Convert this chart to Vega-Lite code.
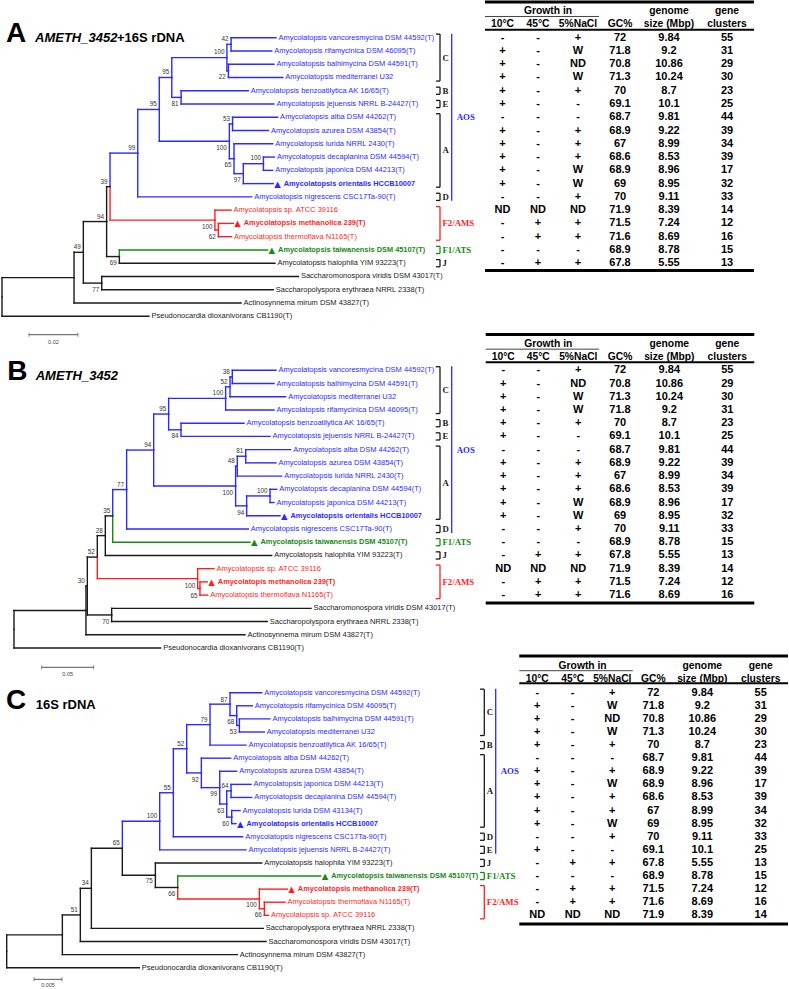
{
"$schema": "https://vega.github.io/schema/vega-lite/v6.json",
"background": "white",
"padding": 0,
"spacing": 0,
"bounds": "flush",
"config": {"view": {"stroke": null}, "text": {"font": "Liberation Sans"}, "concat": {"spacing": 0}},
"resolve": {"scale": {"x": "independent", "y": "independent", "color": "independent"}},
"datasets": {
"hdr": [{"c":2.25,"r":-2,"t":"Growth in"},{"c":5,"r":-2,"t":"genome"},{"c":6,"r":-2,"t":"gene"},{"c":1,"r":-1,"t":"10°C"},{"c":2,"r":-1,"t":"45°C"},{"c":3,"r":-1,"t":"5%NaCl"},{"c":4,"r":-1,"t":"GC%"},{"c":5,"r":-1,"t":"size (Mbp)"},{"c":6,"r":-1,"t":"clusters"}],
"aos": [{"l":"AOS","top":-0.3,"bot":12.3,"mid":6,"g":"AOS"}],
"edgesA": [
{"px":0,"py":19.55,"cx":0.0294,"cy":18.09,"g":"out"},
{"px":0,"py":19.55,"cx":0.06,"cy":21,"g":"out"},
{"px":0.0294,"py":18.09,"cx":0.0332,"cy":16.18,"g":"out"},
{"px":0.0294,"py":18.09,"cx":0.0976,"cy":20,"g":"out"},
{"px":0.0332,"py":16.18,"cx":0.0427,"cy":13.86,"g":"out"},
{"px":0.0332,"py":16.18,"cx":0.0407,"cy":18.5,"g":"out"},
{"px":0.0407,"py":18.5,"cx":0.121,"cy":18,"g":"out"},
{"px":0.0407,"py":18.5,"cx":0.1107,"cy":19,"g":"out"},
{"px":0.0427,"py":13.86,"cx":0.0441,"cy":11.23,"g":"out"},
{"px":0.0427,"py":13.86,"cx":0.0479,"cy":16.5,"g":"out"},
{"px":0.0479,"py":16.5,"cx":0.1084,"cy":16,"g":"ATS"},
{"px":0.0479,"py":16.5,"cx":0.1114,"cy":17,"g":"out"},
{"px":0.0441,"py":11.23,"cx":0.0554,"cy":8.7,"g":"AOS"},
{"px":0.0441,"py":11.23,"cx":0.0869,"cy":13.75,"g":"AMS"},
{"px":0.0869,"py":13.75,"cx":0.0935,"cy":13,"g":"AMS"},
{"px":0.0869,"py":13.75,"cx":0.0883,"cy":14.5,"g":"AMS"},
{"px":0.0883,"py":14.5,"cx":0.0944,"cy":14,"g":"AMS"},
{"px":0.0883,"py":14.5,"cx":0.0937,"cy":15,"g":"AMS"},
{"px":0.0554,"py":8.7,"cx":0.0642,"cy":5.41,"g":"AOS"},
{"px":0.0554,"py":8.7,"cx":0.1019,"cy":12,"g":"AOS"},
{"px":0.0642,"py":5.41,"cx":0.0693,"cy":3,"g":"AOS"},
{"px":0.0642,"py":5.41,"cx":0.0928,"cy":7.81,"g":"AOS"},
{"px":0.0693,"py":3,"cx":0.0918,"cy":1.5,"g":"AOS"},
{"px":0.0693,"py":3,"cx":0.0731,"cy":4.5,"g":"AOS"},
{"px":0.0918,"py":1.5,"cx":0.0935,"cy":0.5,"g":"AOS"},
{"px":0.0918,"py":1.5,"cx":0.0924,"cy":2.5,"g":"AOS"},
{"px":0.0935,"py":0.5,"cx":0.1118,"cy":0,"g":"AOS"},
{"px":0.0935,"py":0.5,"cx":0.1101,"cy":1,"g":"AOS"},
{"px":0.0924,"py":2.5,"cx":0.111,"cy":2,"g":"AOS"},
{"px":0.0924,"py":2.5,"cx":0.1146,"cy":3,"g":"AOS"},
{"px":0.0731,"py":4.5,"cx":0.1005,"cy":4,"g":"AOS"},
{"px":0.0731,"py":4.5,"cx":0.111,"cy":5,"g":"AOS"},
{"px":0.0928,"py":7.81,"cx":0.0941,"cy":6.5,"g":"AOS"},
{"px":0.0928,"py":7.81,"cx":0.0947,"cy":9.125,"g":"AOS"},
{"px":0.0941,"py":6.5,"cx":0.1125,"cy":6,"g":"AOS"},
{"px":0.0941,"py":6.5,"cx":0.1088,"cy":7,"g":"AOS"},
{"px":0.0947,"py":9.125,"cx":0.1105,"cy":8,"g":"AOS"},
{"px":0.0947,"py":9.125,"cx":0.0985,"cy":10.25,"g":"AOS"},
{"px":0.0985,"py":10.25,"cx":0.1067,"cy":9.5,"g":"AOS"},
{"px":0.0985,"py":10.25,"cx":0.1107,"cy":11,"g":"AOS"},
{"px":0.1067,"py":9.5,"cx":0.1112,"cy":9,"g":"AOS"},
{"px":0.1067,"py":9.5,"cx":0.1105,"cy":10,"g":"AOS"}
],
"leavesA": [
{"r":0,"t":0.1118,"n":"Amycolatopsis vancoresmycina DSM 44592(T)","g":"AOS"},
{"r":1,"t":0.1101,"n":"Amycolatopsis rifamycinica DSM 46095(T)","g":"AOS"},
{"r":2,"t":0.111,"n":"Amycolatopsis balhimycina DSM 44591(T)","g":"AOS"},
{"r":3,"t":0.1146,"n":"Amycolatopsis mediterranei U32","g":"AOS"},
{"r":4,"t":0.1005,"n":"Amycolatopsis benzoatilytica AK 16/65(T)","g":"AOS"},
{"r":5,"t":0.111,"n":"Amycolatopsis jejuensis NRRL B-24427(T)","g":"AOS"},
{"r":6,"t":0.1125,"n":"Amycolatopsis alba DSM 44262(T)","g":"AOS"},
{"r":7,"t":0.1088,"n":"Amycolatopsis azurea DSM 43854(T)","g":"AOS"},
{"r":8,"t":0.1105,"n":"Amycolatopsis lurida NRRL 2430(T)","g":"AOS"},
{"r":9,"t":0.1112,"n":"Amycolatopsis decaplanina DSM 44594(T)","g":"AOS"},
{"r":10,"t":0.1105,"n":"Amycolatopsis japonica DSM 44213(T)","g":"AOS"},
{"r":11,"t":0.1107,"n":"Amycolatopsis orientalis HCCB10007","g":"AOS","s":true},
{"r":12,"t":0.1019,"n":"Amycolatopsis nigrescens CSC17Ta-90(T)","g":"AOS"},
{"r":13,"t":0.0935,"n":"Amycolatopsis sp. ATCC 39116","g":"AMS"},
{"r":14,"t":0.0944,"n":"Amycolatopsis methanolica 239(T)","g":"AMS","s":true},
{"r":15,"t":0.0937,"n":"Amycolatopsis thermoflava N1165(T)","g":"AMS"},
{"r":16,"t":0.1084,"n":"Amycolatopsis taiwanensis DSM 45107(T)","g":"ATS","s":true},
{"r":17,"t":0.1114,"n":"Amycolatopsis halophila YIM 93223(T)","g":"out"},
{"r":18,"t":0.121,"n":"Saccharomonospora viridis DSM 43017(T)","g":"out"},
{"r":19,"t":0.1107,"n":"Saccharopolyspora erythraea NRRL 2338(T)","g":"out"},
{"r":20,"t":0.0976,"n":"Actinosynnema mirum DSM 43827(T)","g":"out"},
{"r":21,"t":0.06,"n":"Pseudonocardia dioxanivorans CB1190(T)","g":"out"}
],
"bootA": [
{"x":0.0935,"y":0.13,"b":"42"},{"x":0.0924,"y":3.0,"b":"22"},{"x":0.0918,"y":1.1,"b":"100"},{"x":0.0731,"y":5.0,"b":"81"},{"x":0.0693,"y":2.6,"b":"95"},{"x":0.0941,"y":6.1,"b":"53"},{"x":0.1067,"y":9.1,"b":"100"},{"x":0.0985,"y":10.7,"b":"97"},{"x":0.0947,"y":9.6,"b":"65"},{"x":0.0928,"y":8.3,"b":"100"},{"x":0.0642,"y":5.0,"b":"95"},{"x":0.0554,"y":8.3,"b":"99"},{"x":0.0883,"y":15.0,"b":"62"},{"x":0.0869,"y":14.25,"b":"100"},{"x":0.0441,"y":10.85,"b":"39"},{"x":0.0479,"y":17.0,"b":"69"},{"x":0.0427,"y":13.5,"b":"94"},{"x":0.0407,"y":19.0,"b":"77"},{"x":0.0332,"y":15.8,"b":"49"}
],
"tabA": [
{"r":0,"a":"-","b":"-","c":"+","gc":"72","gs":"9.84","gn":"55"},
{"r":1,"a":"+","b":"-","c":"W","gc":"71.8","gs":"9.2","gn":"31"},
{"r":2,"a":"+","b":"-","c":"ND","gc":"70.8","gs":"10.86","gn":"29"},
{"r":3,"a":"+","b":"-","c":"W","gc":"71.3","gs":"10.24","gn":"30"},
{"r":4,"a":"+","b":"-","c":"+","gc":"70","gs":"8.7","gn":"23"},
{"r":5,"a":"+","b":"-","c":"-","gc":"69.1","gs":"10.1","gn":"25"},
{"r":6,"a":"-","b":"-","c":"-","gc":"68.7","gs":"9.81","gn":"44"},
{"r":7,"a":"+","b":"-","c":"+","gc":"68.9","gs":"9.22","gn":"39"},
{"r":8,"a":"+","b":"-","c":"+","gc":"67","gs":"8.99","gn":"34"},
{"r":9,"a":"+","b":"-","c":"+","gc":"68.6","gs":"8.53","gn":"39"},
{"r":10,"a":"+","b":"-","c":"W","gc":"68.9","gs":"8.96","gn":"17"},
{"r":11,"a":"+","b":"-","c":"W","gc":"69","gs":"8.95","gn":"32"},
{"r":12,"a":"-","b":"-","c":"+","gc":"70","gs":"9.11","gn":"33"},
{"r":13,"a":"ND","b":"ND","c":"ND","gc":"71.9","gs":"8.39","gn":"14"},
{"r":14,"a":"-","b":"+","c":"+","gc":"71.5","gs":"7.24","gn":"12"},
{"r":15,"a":"-","b":"+","c":"+","gc":"71.6","gs":"8.69","gn":"16"},
{"r":16,"a":"-","b":"-","c":"-","gc":"68.9","gs":"8.78","gn":"15"},
{"r":17,"a":"-","b":"+","c":"+","gc":"67.8","gs":"5.55","gn":"13"}
],
"brA": [
{"l":"C","top":-0.27,"bot":3.27,"mid":1.5,"g":"out"},
{"l":"B","top":3.73,"bot":4.27,"mid":4,"g":"out"},
{"l":"E","top":4.73,"bot":5.27,"mid":5,"g":"out"},
{"l":"A","top":5.73,"bot":11.27,"mid":8.5,"g":"out"},
{"l":"D","top":11.73,"bot":12.27,"mid":12,"g":"out"},
{"l":"F2/AMS","top":12.73,"bot":15.27,"mid":14,"g":"AMS"},
{"l":"F1/ATS","top":15.73,"bot":16.27,"mid":16,"g":"ATS"},
{"l":"J","top":16.73,"bot":17.27,"mid":17,"g":"out"}
],
"edgesB": [
{"px":0,"py":19.58,"cx":0.0692,"cy":18.16,"g":"out"},
{"px":0,"py":19.58,"cx":0.141,"cy":21,"g":"out"},
{"px":0.0692,"py":18.16,"cx":0.0705,"cy":16.31,"g":"out"},
{"px":0.0692,"py":18.16,"cx":0.2221,"cy":20,"g":"out"},
{"px":0.0705,"py":16.31,"cx":0.0801,"cy":14.125,"g":"out"},
{"px":0.0705,"py":16.31,"cx":0.0939,"cy":18.5,"g":"out"},
{"px":0.0939,"py":18.5,"cx":0.2856,"cy":18,"g":"out"},
{"px":0.0939,"py":18.5,"cx":0.2436,"cy":19,"g":"out"},
{"px":0.0801,"py":14.125,"cx":0.0878,"cy":12.5,"g":"out"},
{"px":0.0801,"py":14.125,"cx":0.1766,"cy":15.75,"g":"AMS"},
{"px":0.1766,"py":15.75,"cx":0.1923,"cy":15,"g":"AMS"},
{"px":0.1766,"py":15.75,"cx":0.1788,"cy":16.5,"g":"AMS"},
{"px":0.1788,"py":16.5,"cx":0.1859,"cy":16,"g":"AMS"},
{"px":0.1788,"py":16.5,"cx":0.1862,"cy":17,"g":"AMS"},
{"px":0.0878,"py":12.5,"cx":0.0949,"cy":11.01,"g":"out"},
{"px":0.0878,"py":12.5,"cx":0.2478,"cy":14,"g":"out"},
{"px":0.0949,"py":11.01,"cx":0.1083,"cy":9.02,"g":"AOS"},
{"px":0.0949,"py":11.01,"cx":0.2269,"cy":13,"g":"ATS"},
{"px":0.1083,"py":9.02,"cx":0.1343,"cy":6.03,"g":"AOS"},
{"px":0.1083,"py":9.02,"cx":0.2253,"cy":12,"g":"AOS"},
{"px":0.1343,"py":6.03,"cx":0.1487,"cy":3.31,"g":"AOS"},
{"px":0.1343,"py":6.03,"cx":0.2131,"cy":8.75,"g":"AOS"},
{"px":0.1487,"py":3.31,"cx":0.2035,"cy":2.125,"g":"AOS"},
{"px":0.1487,"py":3.31,"cx":0.1606,"cy":4.5,"g":"AOS"},
{"px":0.2035,"py":2.125,"cx":0.2077,"cy":1.25,"g":"AOS"},
{"px":0.2035,"py":2.125,"cx":0.25,"cy":3,"g":"AOS"},
{"px":0.2077,"py":1.25,"cx":0.2099,"cy":0.5,"g":"AOS"},
{"px":0.2077,"py":1.25,"cx":0.2612,"cy":2,"g":"AOS"},
{"px":0.2099,"py":0.5,"cx":0.2519,"cy":0,"g":"AOS"},
{"px":0.2099,"py":0.5,"cx":0.25,"cy":1,"g":"AOS"},
{"px":0.1606,"py":4.5,"cx":0.2212,"cy":4,"g":"AOS"},
{"px":0.1606,"py":4.5,"cx":0.2462,"cy":5,"g":"AOS"},
{"px":0.2131,"py":8.75,"cx":0.2147,"cy":7.25,"g":"AOS"},
{"px":0.2131,"py":8.75,"cx":0.2237,"cy":10.25,"g":"AOS"},
{"px":0.2147,"py":7.25,"cx":0.2228,"cy":6.5,"g":"AOS"},
{"px":0.2147,"py":7.25,"cx":0.2574,"cy":8,"g":"AOS"},
{"px":0.2228,"py":6.5,"cx":0.266,"cy":6,"g":"AOS"},
{"px":0.2228,"py":6.5,"cx":0.2519,"cy":7,"g":"AOS"},
{"px":0.2237,"py":10.25,"cx":0.2462,"cy":9.5,"g":"AOS"},
{"px":0.2237,"py":10.25,"cx":0.2558,"cy":11,"g":"AOS"},
{"px":0.2462,"py":9.5,"cx":0.2526,"cy":9,"g":"AOS"},
{"px":0.2462,"py":9.5,"cx":0.25,"cy":10,"g":"AOS"}
],
"leavesB": [
{"r":0,"t":0.2519,"n":"Amycolatopsis vancoresmycina DSM 44592(T)","g":"AOS"},
{"r":1,"t":0.25,"n":"Amycolatopsis balhimycina DSM 44591(T)","g":"AOS"},
{"r":2,"t":0.2612,"n":"Amycolatopsis mediterranei U32","g":"AOS"},
{"r":3,"t":0.25,"n":"Amycolatopsis rifamycinica DSM 46095(T)","g":"AOS"},
{"r":4,"t":0.2212,"n":"Amycolatopsis benzoatilytica AK 16/65(T)","g":"AOS"},
{"r":5,"t":0.2462,"n":"Amycolatopsis jejuensis NRRL B-24427(T)","g":"AOS"},
{"r":6,"t":0.266,"n":"Amycolatopsis alba DSM 44262(T)","g":"AOS"},
{"r":7,"t":0.2519,"n":"Amycolatopsis azurea DSM 43854(T)","g":"AOS"},
{"r":8,"t":0.2574,"n":"Amycolatopsis lurida NRRL 2430(T)","g":"AOS"},
{"r":9,"t":0.2526,"n":"Amycolatopsis decaplanina DSM 44594(T)","g":"AOS"},
{"r":10,"t":0.25,"n":"Amycolatopsis japonica DSM 44213(T)","g":"AOS"},
{"r":11,"t":0.2558,"n":"Amycolatopsis orientalis HCCB10007","g":"AOS","s":true},
{"r":12,"t":0.2253,"n":"Amycolatopsis nigrescens CSC17Ta-90(T)","g":"AOS"},
{"r":13,"t":0.2269,"n":"Amycolatopsis taiwanensis DSM 45107(T)","g":"ATS","s":true},
{"r":14,"t":0.2478,"n":"Amycolatopsis halophila YIM 93223(T)","g":"out"},
{"r":15,"t":0.1923,"n":"Amycolatopsis sp. ATCC 39116","g":"AMS"},
{"r":16,"t":0.1859,"n":"Amycolatopis methanolica 239(T)","g":"AMS","s":true},
{"r":17,"t":0.1862,"n":"Amycolatopsis thermoflava N1165(T)","g":"AMS"},
{"r":18,"t":0.2856,"n":"Saccharomonospora viridis DSM 43017(T)","g":"out"},
{"r":19,"t":0.2436,"n":"Saccharopolyspora erythraea NRRL 2338(T)","g":"out"},
{"r":20,"t":0.2221,"n":"Actinosynnema mirum DSM 43827(T)","g":"out"},
{"r":21,"t":0.141,"n":"Pseudonocardia dioxanivorans CB1190(T)","g":"out"}
],
"bootB": [
{"x":0.2099,"y":0.1,"b":"38"},{"x":0.2077,"y":0.86,"b":"52"},{"x":0.2035,"y":1.74,"b":"100"},{"x":0.1606,"y":5.0,"b":"84"},{"x":0.1487,"y":2.94,"b":"95"},{"x":0.2228,"y":6.13,"b":"81"},{"x":0.2147,"y":6.88,"b":"48"},{"x":0.2462,"y":9.15,"b":"100"},{"x":0.2237,"y":10.76,"b":"94"},{"x":0.2131,"y":9.25,"b":"100"},{"x":0.1343,"y":5.67,"b":"94"},{"x":0.1083,"y":8.65,"b":"77"},{"x":0.0949,"y":10.67,"b":"35"},{"x":0.0878,"y":12.15,"b":"28"},{"x":0.1788,"y":17.03,"b":"65"},{"x":0.1766,"y":16.28,"b":"100"},{"x":0.0801,"y":13.76,"b":"52"},{"x":0.0939,"y":19.03,"b":"70"},{"x":0.0705,"y":15.96,"b":"30"}
],
"tabB": [
{"r":0,"a":"-","b":"-","c":"+","gc":"72","gs":"9.84","gn":"55"},
{"r":1,"a":"+","b":"-","c":"ND","gc":"70.8","gs":"10.86","gn":"29"},
{"r":2,"a":"+","b":"-","c":"W","gc":"71.3","gs":"10.24","gn":"30"},
{"r":3,"a":"+","b":"-","c":"W","gc":"71.8","gs":"9.2","gn":"31"},
{"r":4,"a":"+","b":"-","c":"+","gc":"70","gs":"8.7","gn":"23"},
{"r":5,"a":"+","b":"-","c":"-","gc":"69.1","gs":"10.1","gn":"25"},
{"r":6,"a":"-","b":"-","c":"-","gc":"68.7","gs":"9.81","gn":"44"},
{"r":7,"a":"+","b":"-","c":"+","gc":"68.9","gs":"9.22","gn":"39"},
{"r":8,"a":"+","b":"-","c":"+","gc":"67","gs":"8.99","gn":"34"},
{"r":9,"a":"+","b":"-","c":"+","gc":"68.6","gs":"8.53","gn":"39"},
{"r":10,"a":"+","b":"-","c":"W","gc":"68.9","gs":"8.96","gn":"17"},
{"r":11,"a":"+","b":"-","c":"W","gc":"69","gs":"8.95","gn":"32"},
{"r":12,"a":"-","b":"-","c":"+","gc":"70","gs":"9.11","gn":"33"},
{"r":13,"a":"-","b":"-","c":"-","gc":"68.9","gs":"8.78","gn":"15"},
{"r":14,"a":"-","b":"+","c":"+","gc":"67.8","gs":"5.55","gn":"13"},
{"r":15,"a":"ND","b":"ND","c":"ND","gc":"71.9","gs":"8.39","gn":"14"},
{"r":16,"a":"-","b":"+","c":"+","gc":"71.5","gs":"7.24","gn":"12"},
{"r":17,"a":"-","b":"+","c":"+","gc":"71.6","gs":"8.69","gn":"16"}
],
"brB": [
{"l":"C","top":-0.27,"bot":3.27,"mid":1.5,"g":"out"},
{"l":"B","top":3.73,"bot":4.27,"mid":4,"g":"out"},
{"l":"E","top":4.73,"bot":5.27,"mid":5,"g":"out"},
{"l":"A","top":5.73,"bot":11.27,"mid":8.5,"g":"out"},
{"l":"D","top":11.73,"bot":12.27,"mid":12,"g":"out"},
{"l":"F1/ATS","top":12.73,"bot":13.27,"mid":13,"g":"ATS"},
{"l":"J","top":13.73,"bot":14.27,"mid":14,"g":"out"},
{"l":"F2/AMS","top":14.73,"bot":17.27,"mid":16,"g":"AMS"}
],
"edgesC": [
{"px":0,"py":19.74,"cx":0.00994,"cy":18.49,"g":"out"},
{"px":0,"py":19.74,"cx":0.02369,"cy":21,"g":"out"},
{"px":0.00994,"py":18.49,"cx":0.01315,"cy":16.97,"g":"out"},
{"px":0.00994,"py":18.49,"cx":0.04119,"cy":20,"g":"out"},
{"px":0.01315,"py":16.97,"cx":0.01512,"cy":14.94,"g":"out"},
{"px":0.01315,"py":16.97,"cx":0.04631,"cy":19,"g":"out"},
{"px":0.01512,"py":14.94,"cx":0.02065,"cy":11.88,"g":"out"},
{"px":0.01512,"py":14.94,"cx":0.04583,"cy":18,"g":"out"},
{"px":0.02065,"py":11.88,"cx":0.02732,"cy":9.82,"g":"AOS"},
{"px":0.02065,"py":11.88,"cx":0.02655,"cy":13.94,"g":"out"},
{"px":0.02655,"py":13.94,"cx":0.04554,"cy":13,"g":"out"},
{"px":0.02655,"py":13.94,"cx":0.03054,"cy":14.875,"g":"out"},
{"px":0.03054,"py":14.875,"cx":0.05607,"cy":14,"g":"ATS"},
{"px":0.03054,"py":14.875,"cx":0.04512,"cy":15.75,"g":"AMS"},
{"px":0.04512,"py":15.75,"cx":0.05012,"cy":15,"g":"AMS"},
{"px":0.04512,"py":15.75,"cx":0.04601,"cy":16.5,"g":"AMS"},
{"px":0.04601,"py":16.5,"cx":0.0497,"cy":16,"g":"AMS"},
{"px":0.04601,"py":16.5,"cx":0.04673,"cy":17,"g":"AMS"},
{"px":0.02732,"py":9.82,"cx":0.02976,"cy":7.64,"g":"AOS"},
{"px":0.02732,"py":9.82,"cx":0.04274,"cy":12,"g":"AOS"},
{"px":0.02976,"py":7.64,"cx":0.03214,"cy":4.28,"g":"AOS"},
{"px":0.02976,"py":7.64,"cx":0.04214,"cy":11,"g":"AOS"},
{"px":0.03214,"py":4.28,"cx":0.03631,"cy":2.44,"g":"AOS"},
{"px":0.03214,"py":4.28,"cx":0.03476,"cy":6.125,"g":"AOS"},
{"px":0.03631,"py":2.44,"cx":0.03988,"cy":0.875,"g":"AOS"},
{"px":0.03631,"py":2.44,"cx":0.04274,"cy":4,"g":"AOS"},
{"px":0.03988,"py":0.875,"cx":0.04554,"cy":0,"g":"AOS"},
{"px":0.03988,"py":0.875,"cx":0.04107,"cy":1.75,"g":"AOS"},
{"px":0.04107,"py":1.75,"cx":0.04387,"cy":1,"g":"AOS"},
{"px":0.04107,"py":1.75,"cx":0.04155,"cy":2.5,"g":"AOS"},
{"px":0.04155,"py":2.5,"cx":0.04702,"cy":2,"g":"AOS"},
{"px":0.04155,"py":2.5,"cx":0.04601,"cy":3,"g":"AOS"},
{"px":0.03476,"py":6.125,"cx":0.04,"cy":5,"g":"AOS"},
{"px":0.03476,"py":6.125,"cx":0.03804,"cy":7.25,"g":"AOS"},
{"px":0.03804,"py":7.25,"cx":0.04107,"cy":6,"g":"AOS"},
{"px":0.03804,"py":7.25,"cx":0.03929,"cy":8.5,"g":"AOS"},
{"px":0.03929,"py":8.5,"cx":0.04006,"cy":7.5,"g":"AOS"},
{"px":0.03929,"py":8.5,"cx":0.04018,"cy":9.5,"g":"AOS"},
{"px":0.04006,"py":7.5,"cx":0.04363,"cy":7,"g":"AOS"},
{"px":0.04006,"py":7.5,"cx":0.04375,"cy":8,"g":"AOS"},
{"px":0.04018,"py":9.5,"cx":0.04167,"cy":9,"g":"AOS"},
{"px":0.04018,"py":9.5,"cx":0.04095,"cy":10,"g":"AOS"}
],
"leavesC": [
{"r":0,"t":0.04554,"n":"Amycolatopsis vancoresmycina DSM 44592(T)","g":"AOS"},
{"r":1,"t":0.04387,"n":"Amycolatopsis rifamycinica DSM 46095(T)","g":"AOS"},
{"r":2,"t":0.04702,"n":"Amycolatopsis balhimycina DSM 44591(T)","g":"AOS"},
{"r":3,"t":0.04601,"n":"Amycolatopsis mediterranei U32","g":"AOS"},
{"r":4,"t":0.04274,"n":"Amycolatopsis benzoatilytica AK 16/65(T)","g":"AOS"},
{"r":5,"t":0.04,"n":"Amycolatopsis alba DSM 44262(T)","g":"AOS"},
{"r":6,"t":0.04107,"n":"Amycolatopsis azurea DSM 43854(T)","g":"AOS"},
{"r":7,"t":0.04363,"n":"Amycolatopsis japonica DSM 44213(T)","g":"AOS"},
{"r":8,"t":0.04375,"n":"Amycolatopsis decaplanina DSM 44594(T)","g":"AOS"},
{"r":9,"t":0.04167,"n":"Amycolatopsis lurida DSM 43134(T)","g":"AOS"},
{"r":10,"t":0.04095,"n":"Amycolatopsis orientalis HCCB10007","g":"AOS","s":true},
{"r":11,"t":0.04214,"n":"Amycolatopsis nigrescens CSC17Ta-90(T)","g":"AOS"},
{"r":12,"t":0.04274,"n":"Amycolatopsis jejuensis NRRL B-24427(T)","g":"AOS"},
{"r":13,"t":0.04554,"n":"Amycolatopsis halophila YIM 93223(T)","g":"out"},
{"r":14,"t":0.05607,"n":"Amycolatopsis taiwanensis DSM 45107(T)","g":"ATS","s":true},
{"r":15,"t":0.05012,"n":"Amycolatopsis methanolica 239(T)","g":"AMS","s":true},
{"r":16,"t":0.0497,"n":"Amycolatopsis thermoflava N1165(T)","g":"AMS"},
{"r":17,"t":0.04673,"n":"Amycolatopsis sp. ATCC 39116","g":"AMS"},
{"r":18,"t":0.04583,"n":"Saccharopolyspora erythraea NRRL 2338(T)","g":"out"},
{"r":19,"t":0.04631,"n":"Saccharomonospora viridis DSM 43017(T)","g":"out"},
{"r":20,"t":0.04119,"n":"Actinosynnema mirum DSM 43827(T)","g":"out"},
{"r":21,"t":0.02369,"n":"Pseudonocardia dioxanivorans CB1190(T)","g":"out"}
],
"bootC": [
{"x":0.04155,"y":3.0,"b":"53"},{"x":0.04107,"y":2.24,"b":"68"},{"x":0.03988,"y":0.53,"b":"87"},{"x":0.03631,"y":2.09,"b":"79"},{"x":0.04006,"y":7.15,"b":"64"},{"x":0.04018,"y":10.0,"b":"60"},{"x":0.03929,"y":9.01,"b":"63"},{"x":0.03804,"y":7.76,"b":"99"},{"x":0.03476,"y":6.64,"b":"92"},{"x":0.03214,"y":3.95,"b":"52"},{"x":0.02976,"y":7.25,"b":"55"},{"x":0.02732,"y":9.44,"b":"100"},{"x":0.04601,"y":17.0,"b":"66"},{"x":0.04512,"y":16.24,"b":"100"},{"x":0.03054,"y":15.35,"b":"66"},{"x":0.02655,"y":14.4,"b":"75"},{"x":0.02065,"y":11.5,"b":"65"},{"x":0.01512,"y":14.55,"b":"34"},{"x":0.01315,"y":16.6,"b":"51"}
],
"tabC": [
{"r":0,"a":"-","b":"-","c":"+","gc":"72","gs":"9.84","gn":"55"},
{"r":1,"a":"+","b":"-","c":"W","gc":"71.8","gs":"9.2","gn":"31"},
{"r":2,"a":"+","b":"-","c":"ND","gc":"70.8","gs":"10.86","gn":"29"},
{"r":3,"a":"+","b":"-","c":"W","gc":"71.3","gs":"10.24","gn":"30"},
{"r":4,"a":"+","b":"-","c":"+","gc":"70","gs":"8.7","gn":"23"},
{"r":5,"a":"-","b":"-","c":"-","gc":"68.7","gs":"9.81","gn":"44"},
{"r":6,"a":"+","b":"-","c":"+","gc":"68.9","gs":"9.22","gn":"39"},
{"r":7,"a":"+","b":"-","c":"W","gc":"68.9","gs":"8.96","gn":"17"},
{"r":8,"a":"+","b":"-","c":"+","gc":"68.6","gs":"8.53","gn":"39"},
{"r":9,"a":"+","b":"-","c":"+","gc":"67","gs":"8.99","gn":"34"},
{"r":10,"a":"+","b":"-","c":"W","gc":"69","gs":"8.95","gn":"32"},
{"r":11,"a":"-","b":"-","c":"+","gc":"70","gs":"9.11","gn":"33"},
{"r":12,"a":"+","b":"-","c":"-","gc":"69.1","gs":"10.1","gn":"25"},
{"r":13,"a":"-","b":"+","c":"+","gc":"67.8","gs":"5.55","gn":"13"},
{"r":14,"a":"-","b":"-","c":"-","gc":"68.9","gs":"8.78","gn":"15"},
{"r":15,"a":"-","b":"+","c":"+","gc":"71.5","gs":"7.24","gn":"12"},
{"r":16,"a":"-","b":"+","c":"+","gc":"71.6","gs":"8.69","gn":"16"},
{"r":17,"a":"ND","b":"ND","c":"ND","gc":"71.9","gs":"8.39","gn":"14"}
],
"brC": [
{"l":"C","top":-0.27,"bot":3.27,"mid":1.5,"g":"out"},
{"l":"B","top":3.73,"bot":4.27,"mid":4,"g":"out"},
{"l":"A","top":4.73,"bot":10.27,"mid":7.5,"g":"out"},
{"l":"D","top":10.73,"bot":11.27,"mid":11,"g":"out"},
{"l":"E","top":11.73,"bot":12.27,"mid":12,"g":"out"},
{"l":"J","top":12.73,"bot":13.27,"mid":13,"g":"out"},
{"l":"F1/ATS","top":13.73,"bot":14.27,"mid":14,"g":"ATS"},
{"l":"F2/AMS","top":14.73,"bot":17.27,"mid":16,"g":"AMS"}
]
},
"vconcat": [
{
"width": 789, "height": 320,
"resolve": {"scale": {"x": "independent"}},
"layer": [
{"layer": [
{"data": {"name": "edgesA"}, "mark": {"type": "rule", "strokeWidth": 1.4, "strokeCap": "square"},
 "encoding": {"x": {"field": "px", "type": "quantitative", "scale": {"domain": [-0.000816, 0.321224], "zero": false, "nice": false}, "axis": null},
  "y": {"field": "py", "type": "quantitative", "scale": {"domain": [-2.842, 21.282], "reverse": true, "zero": false, "nice": false}, "axis": null},
  "y2": {"field": "cy"},
  "color": {"field": "g", "type": "nominal", "scale": {"domain": ["AOS","AMS","ATS","out"], "range": ["#2b2bff","#ff1f1f","#168a16","#1a1a1a"]}, "legend": null}}},
{"data": {"name": "edgesA"}, "mark": {"type": "rule", "strokeWidth": 1.4, "strokeCap": "square"},
 "encoding": {"x": {"field": "px", "type": "quantitative"}, "x2": {"field": "cx"}, "y": {"field": "cy", "type": "quantitative"}, "color": {"field": "g", "type": "nominal", "legend": null}}},
{"data": {"name": "leavesA"}, "transform": [{"filter": "!datum.s"}], "mark": {"type": "text", "align": "left", "baseline": "middle", "dx": 2.5, "fontSize": 7.5},
 "encoding": {"x": {"field": "t", "type": "quantitative"}, "y": {"field": "r", "type": "quantitative"}, "text": {"field": "n"}, "color": {"field": "g", "type": "nominal", "legend": null}}},
{"data": {"name": "leavesA"}, "transform": [{"filter": "datum.s"}], "mark": {"type": "text", "align": "left", "baseline": "middle", "dx": 10.5, "fontSize": 7.4, "fontWeight": "bold"},
 "encoding": {"x": {"field": "t", "type": "quantitative"}, "y": {"field": "r", "type": "quantitative"}, "text": {"field": "n"}, "color": {"field": "g", "type": "nominal", "legend": null}}},
{"data": {"name": "leavesA"}, "transform": [{"filter": "datum.s"}], "mark": {"type": "text", "text": "▲", "font": "DejaVu Sans", "align": "left", "baseline": "middle", "dx": 1, "fontSize": 8.5},
 "encoding": {"x": {"field": "t", "type": "quantitative"}, "y": {"field": "r", "type": "quantitative"}, "color": {"field": "g", "type": "nominal", "legend": null}}},
{"data": {"name": "bootA"}, "mark": {"type": "text", "align": "right", "baseline": "middle", "dx": -2.5, "fontSize": 6.3, "fill": "#333333"},
 "encoding": {"x": {"field": "x", "type": "quantitative"}, "y": {"field": "y", "type": "quantitative"}, "text": {"field": "b"}}},
{"data": {"values": [{"from": 0.011, "to": 0.031, "mid": 0.021, "row": 22.39, "label": "0.02"}]},
 "layer": [
  {"mark": {"type": "rule", "color": "#555555", "strokeWidth": 1}, "encoding": {"x": {"field": "from", "type": "quantitative"}, "x2": {"field": "to"}, "y": {"field": "row", "type": "quantitative"}}},
  {"mark": {"type": "tick", "orient": "vertical", "size": 4, "thickness": 1, "color": "#555555"}, "encoding": {"x": {"field": "from", "type": "quantitative"}, "y": {"field": "row", "type": "quantitative"}}},
  {"mark": {"type": "tick", "orient": "vertical", "size": 4, "thickness": 1, "color": "#555555"}, "encoding": {"x": {"field": "to", "type": "quantitative"}, "y": {"field": "row", "type": "quantitative"}}},
  {"mark": {"type": "text", "fontSize": 5.5, "dy": 7, "baseline": "middle", "fill": "#444444"}, "encoding": {"x": {"field": "mid", "type": "quantitative"}, "y": {"field": "row", "type": "quantitative"}, "text": {"field": "label"}}}
 ]},
{"data": {"values": [{}]}, "mark": {"type": "text", "text": "A", "fontSize": 28, "fontWeight": "bold", "align": "left", "baseline": "alphabetic"}, "encoding": {"x": {"datum": 0.0016}, "y": {"datum": 0.35}}},
{"data": {"values": [{}]}, "mark": {"type": "text", "text": "AMETH_3452", "fontSize": 13, "fontWeight": "bold", "fontStyle": "italic", "align": "left", "baseline": "alphabetic"}, "encoding": {"x": {"datum": 0.01347}, "y": {"datum": 0.35}}},
{"data": {"values": [{}]}, "mark": {"type": "text", "text": "+16S rDNA", "fontSize": 13, "fontWeight": "bold", "align": "left", "baseline": "alphabetic"}, "encoding": {"x": {"datum": 0.04694}, "y": {"datum": 0.35}}}
]},
{"layer": [
{"data": {"name": "tabA"}, "mark": {"type": "text", "fontSize": 11, "fontWeight": "bold", "baseline": "middle"},
 "encoding": {"x": {"datum": 1, "scale": {"domain": [-3,-2,-1,0,1,2,3,4,5,6,7], "range": [436,440,451.7,485,502.5,538,578,620,669,727,754], "zero": false, "nice": false}, "axis": null},
  "y": {"field": "r", "type": "quantitative"}, "text": {"field": "a"}}},
{"data": {"name": "tabA"}, "mark": {"type": "text", "fontSize": 11, "fontWeight": "bold", "baseline": "middle"}, "encoding": {"x": {"datum": 2}, "y": {"field": "r", "type": "quantitative"}, "text": {"field": "b"}}},
{"data": {"name": "tabA"}, "mark": {"type": "text", "fontSize": 11, "fontWeight": "bold", "baseline": "middle"}, "encoding": {"x": {"datum": 3}, "y": {"field": "r", "type": "quantitative"}, "text": {"field": "c"}}},
{"data": {"name": "tabA"}, "mark": {"type": "text", "fontSize": 11, "fontWeight": "bold", "baseline": "middle"}, "encoding": {"x": {"datum": 4}, "y": {"field": "r", "type": "quantitative"}, "text": {"field": "gc"}}},
{"data": {"name": "tabA"}, "mark": {"type": "text", "fontSize": 11, "fontWeight": "bold", "baseline": "middle"}, "encoding": {"x": {"datum": 5}, "y": {"field": "r", "type": "quantitative"}, "text": {"field": "gs"}}},
{"data": {"name": "tabA"}, "mark": {"type": "text", "fontSize": 11, "fontWeight": "bold", "baseline": "middle"}, "encoding": {"x": {"datum": 6}, "y": {"field": "r", "type": "quantitative"}, "text": {"field": "gn"}}},
{"data": {"name": "hdr"}, "mark": {"type": "text", "fontSize": 10.3, "fontWeight": "bold", "baseline": "middle"}, "encoding": {"x": {"field": "c", "type": "quantitative"}, "y": {"field": "r", "type": "quantitative"}, "text": {"field": "t"}}},
{"data": {"values": [{}]}, "mark": {"type": "rule", "strokeWidth": 3, "color": "black"}, "encoding": {"x": {"datum": 0}, "x2": {"datum": 7}, "y": {"datum": -2.7}}},
{"data": {"values": [{}]}, "mark": {"type": "rule", "strokeWidth": 1, "color": "#444444"}, "encoding": {"x": {"datum": 0}, "x2": {"datum": 3.5}, "y": {"datum": -1.6}}},
{"data": {"values": [{}]}, "mark": {"type": "rule", "strokeWidth": 2, "color": "black"}, "encoding": {"x": {"datum": 0}, "x2": {"datum": 7}, "y": {"datum": -0.6}}},
{"data": {"values": [{}]}, "mark": {"type": "rule", "strokeWidth": 3, "color": "black"}, "encoding": {"x": {"datum": 0}, "x2": {"datum": 7}, "y": {"datum": 17.55}}},
{"data": {"name": "brA"}, "layer": [
 {"mark": {"type": "rule", "strokeWidth": 1.3}, "encoding": {"x": {"datum": -2}, "y": {"field": "top", "type": "quantitative"}, "y2": {"field": "bot"}, "color": {"field": "g", "type": "nominal", "legend": null}}},
 {"mark": {"type": "rule", "strokeWidth": 1.3}, "encoding": {"x": {"datum": -3}, "x2": {"datum": -2}, "y": {"field": "top", "type": "quantitative"}, "color": {"field": "g", "type": "nominal", "legend": null}}},
 {"mark": {"type": "rule", "strokeWidth": 1.3}, "encoding": {"x": {"datum": -3}, "x2": {"datum": -2}, "y": {"field": "bot", "type": "quantitative"}, "color": {"field": "g", "type": "nominal", "legend": null}}},
 {"mark": {"type": "text", "font": "Liberation Serif", "fontWeight": "bold", "fontSize": 8.8, "align": "left", "baseline": "middle", "dx": 2.5}, "encoding": {"x": {"datum": -2}, "y": {"field": "mid", "type": "quantitative"}, "text": {"field": "l"}, "color": {"field": "g", "type": "nominal", "legend": null}}}
]},
{"data": {"name": "aos"}, "layer": [
 {"mark": {"type": "rule", "strokeWidth": 1.3}, "encoding": {"x": {"datum": -1}, "y": {"field": "top", "type": "quantitative"}, "y2": {"field": "bot"}, "color": {"field": "g", "type": "nominal", "legend": null}}},
 {"mark": {"type": "text", "font": "Liberation Serif", "fontWeight": "bold", "fontSize": 8.8, "align": "left", "baseline": "middle", "dx": 5}, "encoding": {"x": {"datum": -1}, "y": {"field": "mid", "type": "quantitative"}, "text": {"field": "l"}, "color": {"field": "g", "type": "nominal", "legend": null}}}
]}
]}
]
},
{
"width": 789, "height": 330,
"resolve": {"scale": {"x": "independent"}},
"layer": [
{"layer": [
{"data": {"name": "edgesB"}, "mark": {"type": "rule", "strokeWidth": 1.4, "strokeCap": "square"},
 "encoding": {"x": {"field": "px", "type": "quantitative", "scale": {"domain": [-0.013462, 0.745192], "zero": false, "nice": false}, "axis": null},
  "y": {"field": "py", "type": "quantitative", "scale": {"domain": [-3.804, 21.151], "reverse": true, "zero": false, "nice": false}, "axis": null},
  "y2": {"field": "cy"},
  "color": {"field": "g", "type": "nominal", "scale": {"domain": ["AOS","AMS","ATS","out"], "range": ["#2b2bff","#ff1f1f","#168a16","#1a1a1a"]}, "legend": null}}},
{"data": {"name": "edgesB"}, "mark": {"type": "rule", "strokeWidth": 1.4, "strokeCap": "square"},
 "encoding": {"x": {"field": "px", "type": "quantitative"}, "x2": {"field": "cx"}, "y": {"field": "cy", "type": "quantitative"}, "color": {"field": "g", "type": "nominal", "legend": null}}},
{"data": {"name": "leavesB"}, "transform": [{"filter": "!datum.s"}], "mark": {"type": "text", "align": "left", "baseline": "middle", "dx": 2.5, "fontSize": 7.5},
 "encoding": {"x": {"field": "t", "type": "quantitative"}, "y": {"field": "r", "type": "quantitative"}, "text": {"field": "n"}, "color": {"field": "g", "type": "nominal", "legend": null}}},
{"data": {"name": "leavesB"}, "transform": [{"filter": "datum.s"}], "mark": {"type": "text", "align": "left", "baseline": "middle", "dx": 10.5, "fontSize": 7.4, "fontWeight": "bold"},
 "encoding": {"x": {"field": "t", "type": "quantitative"}, "y": {"field": "r", "type": "quantitative"}, "text": {"field": "n"}, "color": {"field": "g", "type": "nominal", "legend": null}}},
{"data": {"name": "leavesB"}, "transform": [{"filter": "datum.s"}], "mark": {"type": "text", "text": "▲", "font": "DejaVu Sans", "align": "left", "baseline": "middle", "dx": 1, "fontSize": 8.5},
 "encoding": {"x": {"field": "t", "type": "quantitative"}, "y": {"field": "r", "type": "quantitative"}, "color": {"field": "g", "type": "nominal", "legend": null}}},
{"data": {"name": "bootB"}, "mark": {"type": "text", "align": "right", "baseline": "middle", "dx": -2.5, "fontSize": 6.3, "fill": "#333333"},
 "encoding": {"x": {"field": "x", "type": "quantitative"}, "y": {"field": "y", "type": "quantitative"}, "text": {"field": "b"}}},
{"data": {"values": [{"from": 0.0266, "to": 0.0766, "mid": 0.0516, "row": 22.46, "label": "0.05"}]},
 "layer": [
  {"mark": {"type": "rule", "color": "#555555", "strokeWidth": 1}, "encoding": {"x": {"field": "from", "type": "quantitative"}, "x2": {"field": "to"}, "y": {"field": "row", "type": "quantitative"}}},
  {"mark": {"type": "tick", "orient": "vertical", "size": 4, "thickness": 1, "color": "#555555"}, "encoding": {"x": {"field": "from", "type": "quantitative"}, "y": {"field": "row", "type": "quantitative"}}},
  {"mark": {"type": "tick", "orient": "vertical", "size": 4, "thickness": 1, "color": "#555555"}, "encoding": {"x": {"field": "to", "type": "quantitative"}, "y": {"field": "row", "type": "quantitative"}}},
  {"mark": {"type": "text", "fontSize": 5.5, "dy": 7, "baseline": "middle", "fill": "#444444"}, "encoding": {"x": {"field": "mid", "type": "quantitative"}, "y": {"field": "row", "type": "quantitative"}, "text": {"field": "label"}}}
 ]},
{"data": {"values": [{}]}, "mark": {"type": "text", "text": "B", "fontSize": 28, "fontWeight": "bold", "align": "left", "baseline": "alphabetic"}, "encoding": {"x": {"datum": -0.00644}, "y": {"datum": 0.73}}},
{"data": {"values": [{}]}, "mark": {"type": "text", "text": "AMETH_3452", "fontSize": 13, "fontWeight": "bold", "fontStyle": "italic", "align": "left", "baseline": "alphabetic"}, "encoding": {"x": {"datum": 0.02087}, "y": {"datum": 0.73}}}
]},
{"layer": [
{"data": {"name": "tabB"}, "mark": {"type": "text", "fontSize": 11, "fontWeight": "bold", "baseline": "middle"},
 "encoding": {"x": {"datum": 1, "scale": {"domain": [-3,-2,-1,0,1,2,3,4,5,6,7], "range": [435.7,440,451.7,485.7,503.3,538.3,578.3,620,669.3,727.3,754.3], "zero": false, "nice": false}, "axis": null},
  "y": {"field": "r", "type": "quantitative"}, "text": {"field": "a"}}},
{"data": {"name": "tabB"}, "mark": {"type": "text", "fontSize": 11, "fontWeight": "bold", "baseline": "middle"}, "encoding": {"x": {"datum": 2}, "y": {"field": "r", "type": "quantitative"}, "text": {"field": "b"}}},
{"data": {"name": "tabB"}, "mark": {"type": "text", "fontSize": 11, "fontWeight": "bold", "baseline": "middle"}, "encoding": {"x": {"datum": 3}, "y": {"field": "r", "type": "quantitative"}, "text": {"field": "c"}}},
{"data": {"name": "tabB"}, "mark": {"type": "text", "fontSize": 11, "fontWeight": "bold", "baseline": "middle"}, "encoding": {"x": {"datum": 4}, "y": {"field": "r", "type": "quantitative"}, "text": {"field": "gc"}}},
{"data": {"name": "tabB"}, "mark": {"type": "text", "fontSize": 11, "fontWeight": "bold", "baseline": "middle"}, "encoding": {"x": {"datum": 5}, "y": {"field": "r", "type": "quantitative"}, "text": {"field": "gs"}}},
{"data": {"name": "tabB"}, "mark": {"type": "text", "fontSize": 11, "fontWeight": "bold", "baseline": "middle"}, "encoding": {"x": {"datum": 6}, "y": {"field": "r", "type": "quantitative"}, "text": {"field": "gn"}}},
{"data": {"name": "hdr"}, "mark": {"type": "text", "fontSize": 10.3, "fontWeight": "bold", "baseline": "middle"}, "encoding": {"x": {"field": "c", "type": "quantitative"}, "y": {"field": "r", "type": "quantitative"}, "text": {"field": "t"}}},
{"data": {"values": [{}]}, "mark": {"type": "rule", "strokeWidth": 3, "color": "black"}, "encoding": {"x": {"datum": 0}, "x2": {"datum": 7}, "y": {"datum": -2.7}}},
{"data": {"values": [{}]}, "mark": {"type": "rule", "strokeWidth": 1, "color": "#444444"}, "encoding": {"x": {"datum": 0}, "x2": {"datum": 3.5}, "y": {"datum": -1.6}}},
{"data": {"values": [{}]}, "mark": {"type": "rule", "strokeWidth": 2, "color": "black"}, "encoding": {"x": {"datum": 0}, "x2": {"datum": 7}, "y": {"datum": -0.6}}},
{"data": {"values": [{}]}, "mark": {"type": "rule", "strokeWidth": 3, "color": "black"}, "encoding": {"x": {"datum": 0}, "x2": {"datum": 7}, "y": {"datum": 17.6}}},
{"data": {"name": "brB"}, "layer": [
 {"mark": {"type": "rule", "strokeWidth": 1.3}, "encoding": {"x": {"datum": -2}, "y": {"field": "top", "type": "quantitative"}, "y2": {"field": "bot"}, "color": {"field": "g", "type": "nominal", "legend": null}}},
 {"mark": {"type": "rule", "strokeWidth": 1.3}, "encoding": {"x": {"datum": -3}, "x2": {"datum": -2}, "y": {"field": "top", "type": "quantitative"}, "color": {"field": "g", "type": "nominal", "legend": null}}},
 {"mark": {"type": "rule", "strokeWidth": 1.3}, "encoding": {"x": {"datum": -3}, "x2": {"datum": -2}, "y": {"field": "bot", "type": "quantitative"}, "color": {"field": "g", "type": "nominal", "legend": null}}},
 {"mark": {"type": "text", "font": "Liberation Serif", "fontWeight": "bold", "fontSize": 8.8, "align": "left", "baseline": "middle", "dx": 2.5}, "encoding": {"x": {"datum": -2}, "y": {"field": "mid", "type": "quantitative"}, "text": {"field": "l"}, "color": {"field": "g", "type": "nominal", "legend": null}}}
]},
{"data": {"name": "aos"}, "layer": [
 {"mark": {"type": "rule", "strokeWidth": 1.3}, "encoding": {"x": {"datum": -1}, "y": {"field": "top", "type": "quantitative"}, "y2": {"field": "bot"}, "color": {"field": "g", "type": "nominal", "legend": null}}},
 {"mark": {"type": "text", "font": "Liberation Serif", "fontWeight": "bold", "fontSize": 8.8, "align": "left", "baseline": "middle", "dx": 5}, "encoding": {"x": {"datum": -1}, "y": {"field": "mid", "type": "quantitative"}, "text": {"field": "l"}, "color": {"field": "g", "type": "nominal", "legend": null}}}
]}
]}
]
},
{
"width": 789, "height": 339,
"resolve": {"scale": {"x": "independent"}},
"layer": [
{"layer": [
{"data": {"name": "edgesC"}, "mark": {"type": "rule", "strokeWidth": 1.4, "strokeCap": "square"},
 "encoding": {"x": {"field": "px", "type": "quantitative", "scale": {"domain": [-0.001196, 0.139696], "zero": false, "nice": false}, "axis": null},
  "y": {"field": "py", "type": "quantitative", "scale": {"domain": [-3.261, 22.627], "reverse": true, "zero": false, "nice": false}, "axis": null},
  "y2": {"field": "cy"},
  "color": {"field": "g", "type": "nominal", "scale": {"domain": ["AOS","AMS","ATS","out"], "range": ["#2b2bff","#ff1f1f","#168a16","#1a1a1a"]}, "legend": null}}},
{"data": {"name": "edgesC"}, "mark": {"type": "rule", "strokeWidth": 1.4, "strokeCap": "square"},
 "encoding": {"x": {"field": "px", "type": "quantitative"}, "x2": {"field": "cx"}, "y": {"field": "cy", "type": "quantitative"}, "color": {"field": "g", "type": "nominal", "legend": null}}},
{"data": {"name": "leavesC"}, "transform": [{"filter": "!datum.s"}], "mark": {"type": "text", "align": "left", "baseline": "middle", "dx": 2.5, "fontSize": 7.5},
 "encoding": {"x": {"field": "t", "type": "quantitative"}, "y": {"field": "r", "type": "quantitative"}, "text": {"field": "n"}, "color": {"field": "g", "type": "nominal", "legend": null}}},
{"data": {"name": "leavesC"}, "transform": [{"filter": "datum.s"}], "mark": {"type": "text", "align": "left", "baseline": "middle", "dx": 10.5, "fontSize": 7.4, "fontWeight": "bold"},
 "encoding": {"x": {"field": "t", "type": "quantitative"}, "y": {"field": "r", "type": "quantitative"}, "text": {"field": "n"}, "color": {"field": "g", "type": "nominal", "legend": null}}},
{"data": {"name": "leavesC"}, "transform": [{"filter": "datum.s"}], "mark": {"type": "text", "text": "▲", "font": "DejaVu Sans", "align": "left", "baseline": "middle", "dx": 1, "fontSize": 8.5},
 "encoding": {"x": {"field": "t", "type": "quantitative"}, "y": {"field": "r", "type": "quantitative"}, "color": {"field": "g", "type": "nominal", "legend": null}}},
{"data": {"name": "bootC"}, "mark": {"type": "text", "align": "right", "baseline": "middle", "dx": -2.5, "fontSize": 6.3, "fill": "#333333"},
 "encoding": {"x": {"field": "x", "type": "quantitative"}, "y": {"field": "y", "type": "quantitative"}, "text": {"field": "b"}}},
{"data": {"values": [{"from": 0.00488, "to": 0.00988, "mid": 0.00738, "row": 21.89, "label": "0.005"}]},
 "layer": [
  {"mark": {"type": "rule", "color": "#555555", "strokeWidth": 1}, "encoding": {"x": {"field": "from", "type": "quantitative"}, "x2": {"field": "to"}, "y": {"field": "row", "type": "quantitative"}}},
  {"mark": {"type": "tick", "orient": "vertical", "size": 4, "thickness": 1, "color": "#555555"}, "encoding": {"x": {"field": "from", "type": "quantitative"}, "y": {"field": "row", "type": "quantitative"}}},
  {"mark": {"type": "tick", "orient": "vertical", "size": 4, "thickness": 1, "color": "#555555"}, "encoding": {"x": {"field": "to", "type": "quantitative"}, "y": {"field": "row", "type": "quantitative"}}},
  {"mark": {"type": "text", "fontSize": 5.5, "dy": 6, "baseline": "middle", "fill": "#444444"}, "encoding": {"x": {"field": "mid", "type": "quantitative"}, "y": {"field": "row", "type": "quantitative"}, "text": {"field": "label"}}}
 ]},
{"data": {"values": [{}]}, "mark": {"type": "text", "text": "C", "fontSize": 28, "fontWeight": "bold", "align": "left", "baseline": "alphabetic"}, "encoding": {"x": {"datum": -0.000125}, "y": {"datum": 1.27}}},
{"data": {"values": [{}]}, "mark": {"type": "text", "text": "16S rDNA", "fontSize": 13, "fontWeight": "bold", "align": "left", "baseline": "alphabetic"}, "encoding": {"x": {"datum": 0.00518}, "y": {"datum": 1.27}}}
]},
{"layer": [
{"data": {"name": "tabC"}, "mark": {"type": "text", "fontSize": 11, "fontWeight": "bold", "baseline": "middle"},
 "encoding": {"x": {"datum": 1, "scale": {"domain": [-3,-2,-1,0,1,2,3,4,5,6,7], "range": [480,484.3,495.7,519.3,537.3,572.7,612.3,653.3,702.3,760.7,788], "zero": false, "nice": false}, "axis": null},
  "y": {"field": "r", "type": "quantitative"}, "text": {"field": "a"}}},
{"data": {"name": "tabC"}, "mark": {"type": "text", "fontSize": 11, "fontWeight": "bold", "baseline": "middle"}, "encoding": {"x": {"datum": 2}, "y": {"field": "r", "type": "quantitative"}, "text": {"field": "b"}}},
{"data": {"name": "tabC"}, "mark": {"type": "text", "fontSize": 11, "fontWeight": "bold", "baseline": "middle"}, "encoding": {"x": {"datum": 3}, "y": {"field": "r", "type": "quantitative"}, "text": {"field": "c"}}},
{"data": {"name": "tabC"}, "mark": {"type": "text", "fontSize": 11, "fontWeight": "bold", "baseline": "middle"}, "encoding": {"x": {"datum": 4}, "y": {"field": "r", "type": "quantitative"}, "text": {"field": "gc"}}},
{"data": {"name": "tabC"}, "mark": {"type": "text", "fontSize": 11, "fontWeight": "bold", "baseline": "middle"}, "encoding": {"x": {"datum": 5}, "y": {"field": "r", "type": "quantitative"}, "text": {"field": "gs"}}},
{"data": {"name": "tabC"}, "mark": {"type": "text", "fontSize": 11, "fontWeight": "bold", "baseline": "middle"}, "encoding": {"x": {"datum": 6}, "y": {"field": "r", "type": "quantitative"}, "text": {"field": "gn"}}},
{"data": {"name": "hdr"}, "mark": {"type": "text", "fontSize": 10.3, "fontWeight": "bold", "baseline": "middle", "dy": -1}, "encoding": {"x": {"field": "c", "type": "quantitative"}, "y": {"field": "r", "type": "quantitative"}, "text": {"field": "t"}}},
{"data": {"values": [{}]}, "mark": {"type": "rule", "strokeWidth": 3, "color": "black"}, "encoding": {"x": {"datum": 0}, "x2": {"datum": 7}, "y": {"datum": -2.8}}},
{"data": {"values": [{}]}, "mark": {"type": "rule", "strokeWidth": 1, "color": "#444444"}, "encoding": {"x": {"datum": 0}, "x2": {"datum": 3.5}, "y": {"datum": -1.68}}},
{"data": {"values": [{}]}, "mark": {"type": "rule", "strokeWidth": 2, "color": "black"}, "encoding": {"x": {"datum": 0}, "x2": {"datum": 7}, "y": {"datum": -0.72}}},
{"data": {"values": [{}]}, "mark": {"type": "rule", "strokeWidth": 3, "color": "black"}, "encoding": {"x": {"datum": 0}, "x2": {"datum": 7}, "y": {"datum": 17.66}}},
{"data": {"name": "brC"}, "layer": [
 {"mark": {"type": "rule", "strokeWidth": 1.3}, "encoding": {"x": {"datum": -2}, "y": {"field": "top", "type": "quantitative"}, "y2": {"field": "bot"}, "color": {"field": "g", "type": "nominal", "legend": null}}},
 {"mark": {"type": "rule", "strokeWidth": 1.3}, "encoding": {"x": {"datum": -3}, "x2": {"datum": -2}, "y": {"field": "top", "type": "quantitative"}, "color": {"field": "g", "type": "nominal", "legend": null}}},
 {"mark": {"type": "rule", "strokeWidth": 1.3}, "encoding": {"x": {"datum": -3}, "x2": {"datum": -2}, "y": {"field": "bot", "type": "quantitative"}, "color": {"field": "g", "type": "nominal", "legend": null}}},
 {"mark": {"type": "text", "font": "Liberation Serif", "fontWeight": "bold", "fontSize": 8.8, "align": "left", "baseline": "middle", "dx": 2.5}, "encoding": {"x": {"datum": -2}, "y": {"field": "mid", "type": "quantitative"}, "text": {"field": "l"}, "color": {"field": "g", "type": "nominal", "legend": null}}}
]},
{"data": {"name": "aos"}, "layer": [
 {"mark": {"type": "rule", "strokeWidth": 1.3}, "encoding": {"x": {"datum": -1}, "y": {"field": "top", "type": "quantitative"}, "y2": {"field": "bot"}, "color": {"field": "g", "type": "nominal", "legend": null}}},
 {"mark": {"type": "text", "font": "Liberation Serif", "fontWeight": "bold", "fontSize": 8.8, "align": "left", "baseline": "middle", "dx": 5}, "encoding": {"x": {"datum": -1}, "y": {"field": "mid", "type": "quantitative"}, "text": {"field": "l"}, "color": {"field": "g", "type": "nominal", "legend": null}}}
]}
]}
]
}
]
}
